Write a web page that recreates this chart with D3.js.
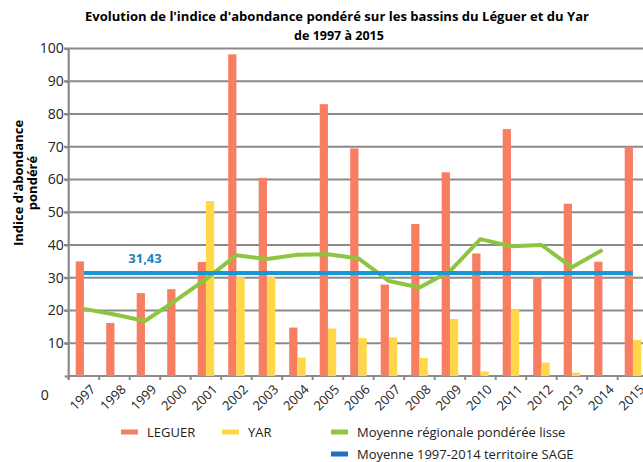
<!DOCTYPE html>
<head>
    <meta charset="utf-8">
    <title>Indice d'abondance pondéré - Léguer et Yar</title>
    <style>
        body { margin: 0; background: #fff; }
        text { font-family: "Open Sans", "Liberation Sans", sans-serif; }
    </style>
</head>
<body>
<svg width="643" height="462"></svg>
</body>

<script src="https://d3js.org/d3.v7.min.js"></script>
<script>

// values
var years = ["1997", "1998", "1999", "2000", "2001", "2002", "2003", "2004", "2005", "2006",
             "2007", "2008", "2009", "2010", "2011", "2012", "2013", "2014", "2015"];
var leguer = [35, 16.2, 25.3, 26.5, 34.8, 98.2, 60.5, 14.8, 83, 69.5,
              27.9, 46.4, 62.2, 37.4, 75.4, 30.2, 52.6, 34.9, 70];
var yar = [null, null, null, null, 53.4, 30.2, 30.3, 5.6, 14.5, 11.6,
           11.8, 5.5, 17.4, 1.4, 20.3, 4.1, 1.0, null, 11.0];
var moyenneRegionale = [20.5, 18.8, 16.8, 23, 29.6, 36.9, 35.7, 37, 37.2, 35.9,
                        29, 27, 32, 41.8, 39.6, 40, 33.2, 38.5];
var moyenneSage = 31.43;
var yTicks = [0, 10, 20, 30, 40, 50, 60, 70, 80, 90, 100];

var colors = { leguer: "#f87e62", yar: "#ffd748", green: "#8cc63f", blue: "#1797d6", blueLegend: "#1f6fc5" };

var svg = d3.select("svg"),
    plot = { left: 68.7, right: 648.2, top: 48.5, bottom: 376 };

var x = d3.scaleBand().domain(years).range([plot.left, plot.right]).padding(0);
var sub = d3.scaleBand().domain(["leguer", "yar"]).range([7, x.bandwidth() - 7]).padding(0);
var y = d3.scaleLinear().domain([0, 100]).range([plot.bottom, plot.top]);

// title
var title = svg.append("g").attr("font-weight", "bold").attr("font-size", 12.5).attr("text-anchor", "middle");
title.append("text").attr("x", 337).attr("y", 21)
    .attr("textLength", 504).attr("lengthAdjust", "spacingAndGlyphs")
    .text("Evolution de l'indice d'abondance pondéré sur les bassins du Léguer et du Yar");
title.append("text").attr("x", 339).attr("y", 40)
    .text("de 1997 à 2015");

// gridlines
svg.append("g").selectAll("line")
    .data(yTicks.slice(1))
    .enter().append("line")
      .attr("x1", 64).attr("x2", plot.right)
      .attr("y1", function(d) { return y(d); })
      .attr("y2", function(d) { return y(d); })
      .attr("stroke", "#8a8a8a").attr("stroke-width", 2.2);

// y axis
var yAxis = svg.append("g")
    .attr("transform", "translate(" + plot.left + ",0)")
    .call(d3.axisLeft(y).tickValues(yTicks).tickSize(4).tickPadding(2));
yAxis.select(".domain").attr("stroke", "#8a8a8a").attr("stroke-width", 2.2).attr("d", "M0," + (plot.bottom + 4) + "V" + plot.top);
yAxis.selectAll(".tick line").attr("stroke", "#8a8a8a").attr("stroke-width", 2.2);
yAxis.selectAll(".tick text")
    .attr("font-family", "'Open Sans', sans-serif").attr("font-size", 14).attr("fill", "#222")
    .attr("x", function(d) { return d === 0 ? -20 : -5; })
    .attr("dy", function(d) { return d === 0 ? "1.7em" : "0.32em"; });

// y axis title
var yTitle = svg.append("g").attr("font-weight", "bold").attr("font-size", 13).attr("text-anchor", "middle");
yTitle.append("text").attr("transform", "translate(23,183) rotate(-90)").text("Indice d'abondance");
yTitle.append("text").attr("transform", "translate(37,183) rotate(-90)").text("pondéré");

// x axis
var xAxis = svg.append("g")
    .attr("transform", "translate(0," + plot.bottom + ")");
xAxis.append("line").attr("x1", plot.left).attr("x2", plot.right)
    .attr("stroke", "#8a8a8a").attr("stroke-width", 2.2);
xAxis.selectAll(".tk")
    .data(years)
    .enter().append("line")
      .attr("class", "tk")
      .attr("x1", function(d) { return x(d); })
      .attr("x2", function(d) { return x(d); })
      .attr("y1", 0).attr("y2", 4)
      .attr("stroke", "#8a8a8a").attr("stroke-width", 2);
xAxis.selectAll(".lbl")
    .data(years)
    .enter().append("text")
      .attr("class", "lbl")
      .attr("text-anchor", "end")
      .attr("font-size", 13).attr("fill", "#222")
      .attr("transform", function(d) { return "translate(" + (x(d) + x.bandwidth() / 2 + 9) + ",11) rotate(-45)"; })
      .attr("dy", "0.35em")
      .text(function(d) { return d; });

// bars
var bars = svg.append("g");
bars.selectAll(".leguer")
    .data(years.map(function(d, i) { return { year: d, v: leguer[i] }; }))
    .enter().append("rect")
      .attr("class", "leguer")
      .attr("x", function(d) { return x(d.year) + sub("leguer"); })
      .attr("width", sub.bandwidth())
      .attr("y", function(d) { return y(d.v); })
      .attr("height", function(d) { return plot.bottom - y(d.v); })
      .attr("fill", colors.leguer);
bars.selectAll(".yar")
    .data(years.map(function(d, i) { return { year: d, v: yar[i] }; }).filter(function(d) { return d.v != null; }))
    .enter().append("rect")
      .attr("class", "yar")
      .attr("x", function(d) { return x(d.year) + sub("yar"); })
      .attr("width", sub.bandwidth())
      .attr("y", function(d) { return y(d.v); })
      .attr("height", function(d) { return plot.bottom - y(d.v); })
      .attr("fill", colors.yar);

var cx = function(d) { return x(d) + x.bandwidth() / 2; };

// regional average (green)
var line = d3.line()
    .x(function(d, i) { return cx(years[i]); })
    .y(function(d) { return y(d); });
svg.append("path")
    .datum(moyenneRegionale)
    .attr("d", line)
    .attr("fill", "none").attr("stroke", colors.green).attr("stroke-width", 4)
    .attr("stroke-linejoin", "round");

// SAGE average (blue)
svg.append("line")
    .attr("x1", cx(years[0])).attr("x2", cx(years[years.length - 1]))
    .attr("y1", y(moyenneSage)).attr("y2", y(moyenneSage))
    .attr("stroke", colors.blue).attr("stroke-width", 4);
svg.append("text")
    .attr("x", 145).attr("y", y(moyenneSage) - 10)
    .attr("text-anchor", "middle").attr("font-weight", "bold").attr("font-size", 13)
    .attr("fill", "#1c7fc5")
    .text(d3.format(".2f")(moyenneSage).replace(".", ","));

// legend
var legend = [
  { label: "LEGUER", color: colors.leguer, x: 121, y: 432 },
  { label: "YAR", color: colors.yar, x: 222, y: 432 },
  { label: "Moyenne régionale pondérée lisse", color: colors.green, x: 331, y: 432 },
  { label: "Moyenne 1997-2014 territoire SAGE", color: colors.blueLegend, x: 331, y: 454 }
];
var lg = svg.append("g").selectAll("g")
    .data(legend)
    .enter().append("g")
      .attr("transform", function(d) { return "translate(" + d.x + "," + d.y + ")"; });
lg.append("rect").attr("x", 0).attr("y", -2.5).attr("width", 17).attr("height", 5)
    .attr("fill", function(d) { return d.color; });
lg.append("text").attr("x", 26).attr("dy", "0.35em").attr("font-size", 13).attr("fill", "#222")
    .text(function(d) { return d.label; });

</script>
